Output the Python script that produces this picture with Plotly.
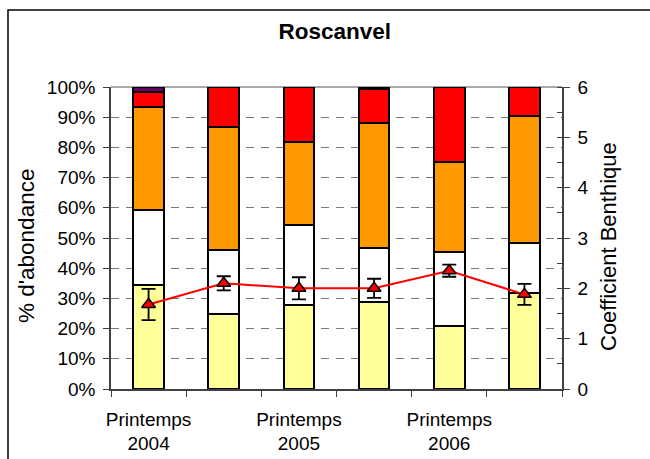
import plotly.graph_objects as go

# Sampling campaigns (one bar each); labels shown only on spring campaigns
campaigns = ["Printemps<br>2004", "", "Printemps<br>2005", "", "Printemps<br>2006", ""]

# Relative abundance (%) of the five ecological groups, bottom to top
group_I = [34.5, 24.7, 27.8, 28.9, 21.0, 31.9]
group_II = [24.8, 21.3, 26.5, 17.7, 24.5, 16.6]
group_III = [34.0, 40.9, 27.6, 41.4, 29.8, 42.0]
group_IV = [5.2, 13.1, 18.1, 11.3, 24.7, 9.5]
group_V = [1.5, None, None, 0.7, None, None]

# Benthic coefficient with its error
coef_benthique = [1.68, 2.10, 2.00, 2.00, 2.35, 1.88]
coef_err = [0.31, 0.14, 0.22, 0.19, 0.12, 0.21]

group_names = ["GI", "GII", "GIII", "GIV", "GV"]
group_colors = ["#FFFF99", "#FFFFFF", "#FF9900", "#FF0000", "#660066"]
group_values = [group_I, group_II, group_III, group_IV, group_V]

FONT = "Arial, Liberation Sans, sans-serif"
x_pos = list(range(len(campaigns)))

fig = go.Figure()

for name, color, vals in zip(group_names, group_colors, group_values):
    fig.add_trace(go.Bar(
        x=x_pos, y=vals, name=name,
        marker=dict(color=color, line=dict(color="#000000", width=2)),
        width=0.41,
    ))

fig.add_trace(go.Scatter(
    x=x_pos, y=coef_benthique, yaxis="y2", mode="lines+markers",
    name="Coefficient Benthique",
    line=dict(color="#FF0000", width=2),
    marker=dict(symbol="triangle-up", size=12, color="#FF0000",
                line=dict(color="#000000", width=1.5)),
    error_y=dict(type="data", array=coef_err, visible=True,
                 color="#000000", thickness=1.8, width=7),
))

fig.update_layout(
    width=650, height=459,
    barmode="stack",
    showlegend=False,
    paper_bgcolor="#FFFFFF",
    plot_bgcolor="#FFFFFF",
    margin=dict(l=111, r=88, t=87, b=70, autoexpand=False),
    font=dict(family=FONT, size=19, color="#000000"),
    title=dict(text="<b>Roscanvel</b>", x=0.515, xanchor="center",
               y=1 - 31 / 459, yanchor="middle", yref="container",
               font=dict(size=22.5, family=FONT)),
    xaxis=dict(
        range=[-0.5, 5.5], automargin=False,
        tickvals=x_pos, ticktext=campaigns,
        ticks="", ticklabelstandoff=12,
        showgrid=False, zeroline=False,
        showline=True, linecolor="#404040", linewidth=1.5,
        minor=dict(ticks="outside", tick0=-0.5, dtick=1, ticklen=6,
                   tickcolor="#404040", tickwidth=1.2, showgrid=False),
        tickfont=dict(size=19),
    ),
    yaxis=dict(
        range=[0, 100], dtick=10, ticksuffix="%", automargin=False,
        ticks="outside", ticklen=6, tickcolor="#404040", tickwidth=1.2,
        showline=True, linecolor="#404040", linewidth=1.5,
        showgrid=True, gridcolor="#7A7A7A", griddash="8px,7px", gridwidth=1.2,
        zeroline=False, ticklabelstandoff=4,
        tickfont=dict(size=19),
    ),
    yaxis2=dict(
        range=[0, 6], dtick=1, overlaying="y", side="right", automargin=False,
        ticks="outside", ticklen=6, tickcolor="#404040", tickwidth=1.2,
        showline=True, linecolor="#404040", linewidth=1.5,
        showgrid=False, zeroline=False, ticklabelstandoff=4,
        minor=dict(ticks="inside", dtick=0.5, ticklen=5,
                   tickcolor="#404040", tickwidth=1.2, showgrid=False),
        tickfont=dict(size=19),
    ),
    shapes=[
        # solid top edge of the plotting area
        dict(type="line", xref="paper", yref="paper", x0=0, x1=1, y0=1, y1=1,
             line=dict(color="#8C8C8C", width=1.5), layer="below"),
        # chart frame
        dict(type="rect", xref="paper", yref="paper",
             x0=(8 - 111) / 451, x1=(670 - 111) / 451,
             y0=(389 - 480) / 302, y1=(389 - 10) / 302,
             line=dict(color="#000000", width=1.5), fillcolor="rgba(0,0,0,0)"),
    ],
    annotations=[
        dict(text="% d'abondance", textangle=-90, xref="paper", yref="paper",
             x=(26 - 111) / 451, y=(389 - 246) / 302,
             xanchor="center", yanchor="middle", showarrow=False,
             font=dict(size=22.5, family=FONT)),
        dict(text="Coefficient Benthique", textangle=-90, xref="paper", yref="paper",
             x=(608 - 111) / 451, y=(389 - 247) / 302,
             xanchor="center", yanchor="middle", showarrow=False,
             font=dict(size=22, family=FONT)),
    ],
)

fig.write_html("out.html")
